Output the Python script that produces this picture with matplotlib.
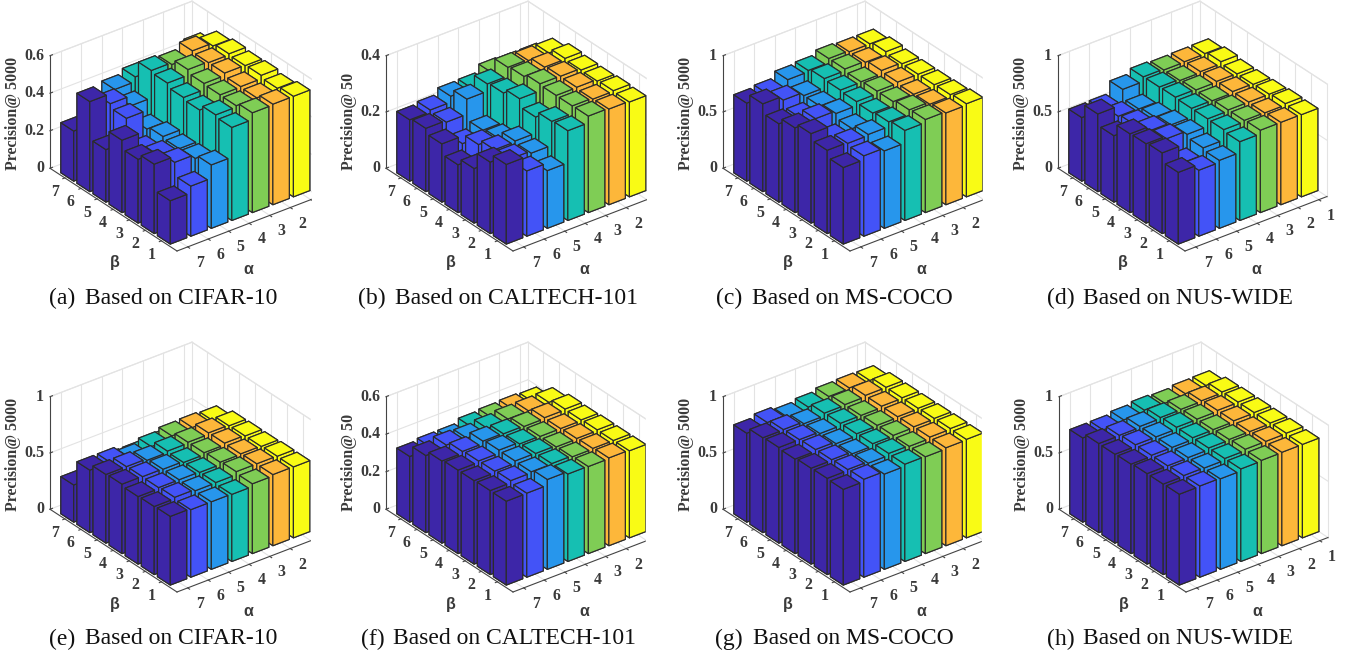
"""Parameter sensitivity of precision for alpha and beta, eight 3D bar panels."""

import matplotlib
matplotlib.use('Agg')
import matplotlib.pyplot as plt
from matplotlib.patches import Rectangle
from mpl_toolkits.mplot3d import proj3d

plt.rcParams['font.family'] = ['Liberation Serif', 'DejaVu Sans']

alpha_values = [7, 6, 5, 4, 3, 2, 1]
beta_values = [1, 2, 3, 4, 5, 6, 7]
alpha_colors = ['#3d26a8', '#4353f7', '#2796ec', '#16bfb2', '#7fcd55', '#fdb73a', '#f9fb15']

# each panel: one row per alpha (7 down to 1), values for beta 1..7
cifar_a = [
    [.231, .370, .340, .386, .280, .480, .267],
    [.267, .338, .320, .290, .405, .427, .360],
    [.338, .317, .313, .322, .306, .374, .405],
    [.496, .507, .477, .488, .509, .520, .430],
    [.532, .514, .516, .521, .539, .510, .400],
    [.536, .514, .518, .534, .534, .541, .400],
    [.536, .523, .536, .532, .539, .525, .460]]
caltech_b = [
    [.283, .254, .194, .170, .207, .225, .218],
    [.232, .238, .233, .214, .180, .219, .225],
    [.205, .230, .236, .207, .200, .273, .246],
    [.319, .315, .293, .321, .304, .299, .248],
    [.343, .342, .342, .346, .335, .330, .274],
    [.340, .338, .343, .345, .340, .326, .270],
    [.337, .340, .337, .339, .343, .325, .270]]
coco_c = [
    [.680, .740, .795, .753, .696, .780, .693],
    [.714, .732, .680, .765, .685, .744, .708],
    [.688, .741, .700, .741, .714, .714, .762],
    [.800, .783, .768, .777, .786, .795, .774],
    [.827, .820, .800, .800, .790, .810, .810],
    [.815, .800, .795, .810, .820, .800, .800],
    [.827, .815, .810, .810, .810, .824, .800]]
nus_d = [
    [.637, .717, .705, .700, .590, .690, .565],
    [.586, .560, .680, .660, .620, .600, .570],
    [.604, .622, .649, .640, .616, .595, .676],
    [.700, .714, .717, .717, .723, .720, .717],
    [.732, .726, .726, .714, .717, .708, .708],
    [.732, .723, .726, .726, .723, .717, .711],
    [.730, .735, .726, .720, .720, .735, .714]]
cifar_e = [
    [.610, .605, .600, .617, .610, .555, .330],
    [.600, .617, .610, .614, .610, .555, .380],
    [.600, .605, .610, .610, .596, .520, .380],
    [.596, .608, .605, .600, .608, .555, .380],
    [.620, .635, .626, .617, .617, .580, .400],
    [.632, .635, .630, .632, .630, .585, .400],
    [.630, .632, .626, .626, .623, .576, .400]]
caltech_f = [
    [.447, .448, .445, .445, .438, .411, .350],
    [.448, .459, .454, .452, .447, .425, .360],
    [.479, .464, .466, .468, .460, .420, .361],
    [.466, .466, .464, .459, .457, .430, .383],
    [.464, .460, .457, .457, .454, .438, .390],
    [.468, .463, .460, .457, .459, .440, .395],
    [.464, .463, .464, .461, .463, .443, .390]]
coco_g = [
    [.850, .855, .852, .840, .850, .843, .790],
    [.870, .864, .858, .855, .850, .846, .816],
    [.846, .850, .840, .837, .834, .828, .792],
    [.864, .867, .860, .855, .855, .852, .813],
    [.860, .860, .864, .860, .855, .858, .837],
    [.870, .872, .870, .867, .867, .870, .843],
    [.875, .878, .875, .872, .872, .872, .840]]
nus_h = [
    [.807, .804, .804, .795, .790, .792, .748],
    [.810, .810, .804, .804, .804, .795, .750],
    [.804, .807, .807, .804, .804, .804, .769],
    [.822, .822, .822, .820, .820, .813, .786],
    [.828, .834, .828, .822, .822, .816, .777],
    [.830, .834, .828, .830, .830, .822, .792],
    [.830, .837, .834, .834, .834, .830, .795]]

panel_values = [cifar_a, caltech_b, coco_c, nus_d, cifar_e, caltech_f, coco_g, nus_h]
panel_zmax = [0.6, 0.4, 1, 1, 1, 0.6, 1, 1]
panel_zticks = [[0, .2, .4, .6], [0, .2, .4], [0, .5, 1], [0, .5, 1],
                [0, .5, 1], [0, .2, .4, .6], [0, .5, 1], [0, .5, 1]]
panel_zlabels = ['Precision@ 5000', 'Precision@ 50', 'Precision@ 5000', 'Precision@ 5000',
                 'Precision@ 5000', 'Precision@ 50', 'Precision@ 5000', 'Precision@ 5000']
panel_tags = ['(a)', '(b)', '(c)', '(d)', '(e)', '(f)', '(g)', '(h)']
panel_names = ['Based on CIFAR-10', 'Based on CALTECH-101', 'Based on MS-COCO', 'Based on NUS-WIDE',
               'Based on CIFAR-10', 'Based on CALTECH-101', 'Based on MS-COCO', 'Based on NUS-WIDE']

# layout, in pixels of the reference (y down)
W, H = 1346, 655
fronts = [(177, 251), (513, 251), (850, 251), (1185, 251),
          (177, 592), (513, 592), (850, 592), (1186, 592)]
clip_right = [311.5, 646.5, 982.5, None, 310.5, 646, 982, None]
tag_x = [49, 358, 716, 1047, 49, 361, 715, 1047]
name_x = [85, 395, 752, 1083, 85, 393, 753, 1083]
caption_y = [298, 298, 298, 298, 639, 639, 639, 639]
X0, X1 = 0.6, 7.52
Y0, Y1 = 0.03, 7.92
GRID = '#e3e3e3'
AXIS = '#444444'
TICK_TEXT = '#3a3a3a'


def to_display(ax, x, y, z):
  """Project a data point on the 3D axes to display pixels."""
  px, py, _ = proj3d.proj_transform(x, y, z, ax.get_proj())
  return ax.transData.transform((px, py))


def place_axes(ax, front):
  """Scale and shift the 3D axes so the front floor corner lands on front."""
  ax.apply_aspect()
  a = to_display(ax, X1, Y0, 0)
  b = to_display(ax, X0, Y0, 0)
  scale = 142.0 / abs(b[0] - a[0])
  ax.set_box_aspect((179, 208.6, 130), zoom=scale)
  ax.apply_aspect()
  a = to_display(ax, X1, Y0, 0)
  pos = ax.get_position(original=True)
  dx = (front[0] - a[0]) / W
  dy = ((H - front[1]) - a[1]) / H
  ax.set_position([pos.x0 + dx, pos.y0 + dy, pos.width, pos.height])
  ax.apply_aspect()


def draw_frame(ax, zmax, zticks):
  """Walls, floor grid and the axis lines with their ticks."""
  line = dict(color=GRID, lw=0.8, zorder=1)
  for a in alpha_values:
    ax.plot([a, a], [Y1, Y1], [0, zmax], **line)
    ax.plot([a, a], [Y0, Y1], [0, 0], **line)
  for b in beta_values:
    ax.plot([X0, X0], [b, b], [0, zmax], **line)
    ax.plot([X0, X1], [b, b], [0, 0], **line)
  for z in zticks:
    ax.plot([X0, X1], [Y1, Y1], [z, z], **line)
    ax.plot([X0, X0], [Y0, Y1], [z, z], **line)
  ax.plot([X0, X0], [Y0, Y1], [zmax, zmax], **line)
  ax.plot([X0, X1], [Y1, Y1], [zmax, zmax], **line)
  ax.plot([X0, X0], [Y1, Y1], [0, zmax], **line)
  ax.plot([X0, X0], [Y0, Y0], [0, zmax], **line)

  dark = dict(color=AXIS, lw=0.8, zorder=500)
  ax.plot([X0, X1], [Y0, Y0], [0, 0], **dark)
  ax.plot([X1, X1], [Y0, Y1], [0, 0], **dark)
  ax.plot([X1, X1], [Y1, Y1], [0, zmax], **dark)
  for a in alpha_values:
    ax.plot([a, a], [Y0, Y0 - 0.12], [0, 0], **dark)
  for b in beta_values:
    ax.plot([X1, X1 + 0.1], [b, b], [0, 0], **dark)
  for z in zticks:
    ax.plot([X1, X1 - 0.12], [Y1, Y1], [z, z], **dark)


def draw_bars(ax, values):
  """Draw the bars one by one from the back corner to the front corner."""
  order = 10
  for i in range(len(alpha_values) - 1, -1, -1):
    for j in range(len(beta_values) - 1, -1, -1):
      bar = ax.bar3d(alpha_values[i] - 0.4, beta_values[j] - 0.4, 0, 0.8, 0.8,
                     values[i][j], color=alpha_colors[i], edgecolor='#2b2b2b',
                     linewidth=0.85, shade=False)
      bar.set_zorder(order)
      order += 1


def label_at(fig, x, y, text, **kw):
  """Put figure text at display pixels."""
  fig.text(x / W, y / H, text, **kw)


def draw_labels(fig, ax, idx):
  """Tick labels and axis titles, placed from the projected tick positions."""
  tick = dict(fontsize=11.4, fontweight='bold', color=TICK_TEXT, ha='center', va='center')
  for a in alpha_values:
    if clip_right[idx] is not None and a == 1:
      continue
    p = to_display(ax, a, Y0, 0)
    label_at(fig, p[0] + 12, p[1] - 16, str(a), **tick)
  for b in beta_values:
    p = to_display(ax, X1, b, 0)
    label_at(fig, p[0] - 10, p[1] - 14, str(b), **tick)
  for z in panel_zticks[idx]:
    p = to_display(ax, X1, Y1, z)
    ztick = dict(tick, ha='right')
    label_at(fig, p[0] - 6, p[1], f'{z:g}', **ztick)
  corner = to_display(ax, X1, Y1, 0)
  label_at(fig, corner[0] - 37, corner[1] - 2, panel_zlabels[idx], rotation=90,
           fontsize=11.4, fontweight='bold', color=TICK_TEXT, ha='center', va='bottom')
  front = fronts[idx]
  greek = dict(fontsize=11.5, fontweight='bold', color=TICK_TEXT, ha='center', va='center',
               family='Liberation Sans')
  label_at(fig, front[0] - 62, H - front[1] - 12, 'β', **greek)
  label_at(fig, front[0] + 71, H - front[1] - 19, 'α', **greek)
  cap = dict(fontsize=17, color='#111111', ha='left', va='center')
  label_at(fig, tag_x[idx], H - caption_y[idx], panel_tags[idx], **cap)
  label_at(fig, name_x[idx], H - caption_y[idx], panel_names[idx], **cap)


def draw_panel(fig, idx):
  """Build one panel of the figure."""
  size = 560
  ax = fig.add_axes([(fronts[idx][0] - size / 2) / W, (H - fronts[idx][1] - size / 2) / H,
                     size / W, size / H], projection='3d', proj_type='ortho',
                    computed_zorder=False)
  ax.patch.set_alpha(0)
  ax.set_axis_off()
  ax.view_init(elev=30, azim=52.5)
  ax.set_xlim(X0, X1, view_margin=0)
  ax.set_ylim(Y1, Y0, view_margin=0)
  ax.set_zlim(0, panel_zmax[idx], view_margin=0)
  ax.set_box_aspect((179, 208.6, 130), zoom=1)
  place_axes(ax, fronts[idx])
  draw_frame(ax, panel_zmax[idx], panel_zticks[idx])
  draw_bars(ax, panel_values[idx])
  draw_labels(fig, ax, idx)
  # the original panels are cropped on the right side
  if clip_right[idx] is not None:
    top = 0 if idx < 4 else 340
    bottom = 280 if idx < 4 else 622
    fig.add_artist(Rectangle((clip_right[idx], H - bottom), 22, bottom - top, color='white',
                             transform=None, zorder=5))


if __name__ == '__main__':
  fig = plt.figure(figsize=(W / 100, H / 100), dpi=100)
  for n in range(8):
    draw_panel(fig, n)
  fig.savefig('out.png', dpi=100)
